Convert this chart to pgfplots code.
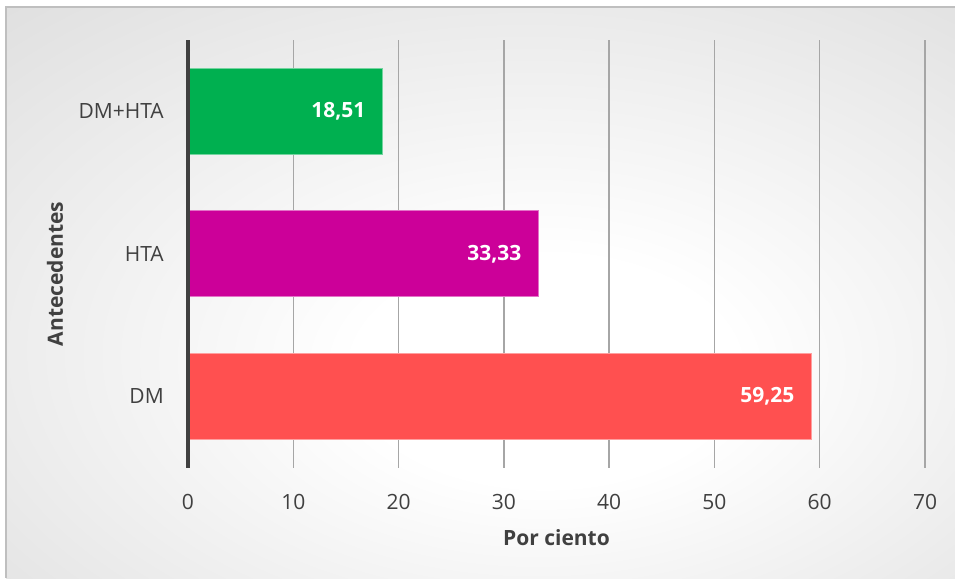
\documentclass[border=0pt]{standalone}
\usepackage{pgfplots}
\pgfplotsset{compat=1.18}
\usepackage{fontspec}
\setmainfont{Open Sans}
\definecolor{txt}{HTML}{404040}
\definecolor{cgreen}{HTML}{00B050}
\definecolor{cmag}{HTML}{CC0099}
\definecolor{cred}{HTML}{FF5050}
\definecolor{gridc}{HTML}{A6A6A6}
\definecolor{bgout}{HTML}{BDBDBD}
\definecolor{bordc}{HTML}{BFBFBF}
\pgfdeclareradialshading{bgshade}{\pgfpoint{4bp}{-8bp}}{color(0bp)=(white); color(10bp)=(white); color(72bp)=(bgout)}
\begin{document}
\fontsize{15.75}{19}\selectfont
\begin{tikzpicture}
\useasboundingbox (0pt,0pt) rectangle (716.25pt,433.5pt);
\shade[shading=bgshade] (4.5pt,0pt) rectangle (716.25pt,428.25pt);
\draw[color=bordc, line width=1.5pt] (4.5pt,0pt) -- (4.5pt,428.25pt) -- (716.25pt,428.25pt);
\begin{axis}[
  at={(141pt,136.125pt)}, anchor=origin, scale only axis,
  width=552.75pt, height=321pt, clip=false,
  xmin=0, xmax=70, ymin=-0.5, ymax=2.5,
  xtick={0,10,...,70}, ytick={0,1,2}, yticklabels={DM,HTA,DM+HTA},
  xmajorgrids, major grid style={draw=gridc, line width=1.1pt},
  major tick length=0pt,
  axis line style={draw=none},
  /pgf/number format/assume math mode=true,
  tick label style={text=txt},
  xticklabel style={yshift=-14.5pt},
  yticklabel style={xshift=-12.75pt},
  xlabel={\bfseries Por ciento}, ylabel={\bfseries Antecedentes},
  xlabel style={at={(axis description cs:0.5,-0.1636)}, anchor=center, text=txt},
  ylabel style={at={(axis description cs:-0.1805,0.4533)}, anchor=center, rotate=0, text=txt},
  point meta=x,
  nodes near coords={\pgfmathprintnumber[fixed,fixed zerofill,precision=2,use comma]{\pgfplotspointmeta}},
  nodes near coords style={anchor=east, xshift=-7.5pt, text=white, font=\bfseries},
]
\addplot[xbar, bar width=64.5pt, bar shift=0pt, fill=cred, draw=cred!55!white, line width=0.75pt] coordinates {(59.25,0)};
\addplot[xbar, bar width=64.5pt, bar shift=0pt, fill=cmag, draw=cmag!55!white, line width=0.75pt] coordinates {(33.33,1)};
\addplot[xbar, bar width=64.5pt, bar shift=0pt, fill=cgreen, draw=cgreen!55!white, line width=0.75pt] coordinates {(18.51,2)};
\draw[color=txt, line width=3pt] (axis cs:0,-0.5) -- (axis cs:0,2.5);
\end{axis}
\end{tikzpicture}
\end{document}
